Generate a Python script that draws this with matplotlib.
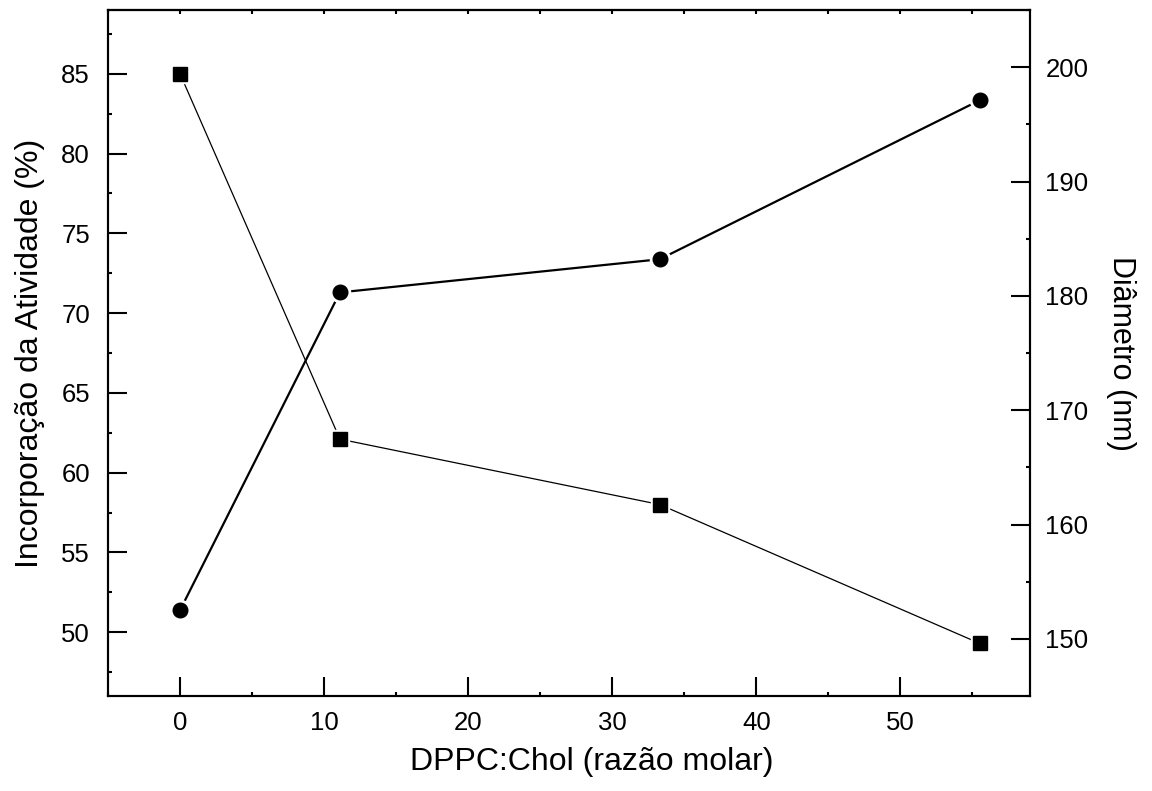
import matplotlib
matplotlib.use("Agg")
import matplotlib.pyplot as plt
from matplotlib.ticker import MultipleLocator

plt.rcParams['font.family'] = ['Liberation Sans', 'DejaVu Sans']

ratio = [0, 11.1, 33.3, 55.5]
incorporacao = [85.0, 62.1, 58.0, 49.3]
diametro = [152.5, 180.3, 183.2, 197.1]

fig = plt.figure(figsize=(11.52, 7.91), dpi=100)
ax = fig.add_axes([108/1152, 1-696/791, (1030-108)/1152, (696-10)/791])
ax2 = ax.twinx()

# squares on left axis (thin line)
ax.plot(ratio, incorporacao, '-', color='black', lw=0.9, zorder=2)
ax.plot(ratio, incorporacao, 's', color='white', ms=13.5, lw=0, zorder=3)
ax.plot(ratio, incorporacao, 's', color='black', ms=9.4, lw=0, zorder=4)

# circles on right axis (thick line)
ax2.plot(ratio, diametro, '-', color='black', lw=1.6, zorder=2)
ax2.plot(ratio, diametro, 'o', color='white', ms=14.5, lw=0, zorder=3)
ax2.plot(ratio, diametro, 'o', color='black', ms=10.5, lw=0, zorder=4)

ax.set_xlim(-5, 59)
ax.set_ylim(46, 89)
ax2.set_ylim(145, 205)

ax.xaxis.set_major_locator(MultipleLocator(10))
ax.xaxis.set_minor_locator(MultipleLocator(5))
ax.yaxis.set_major_locator(MultipleLocator(5))
ax.yaxis.set_minor_locator(MultipleLocator(2.5))
ax2.yaxis.set_major_locator(MultipleLocator(10))
ax2.yaxis.set_minor_locator(MultipleLocator(5))

fs = 18.5
ax.tick_params(axis='both', which='major', direction='in', length=14, width=1.5, labelsize=fs)
ax.tick_params(axis='x', which='major', pad=11)
ax.tick_params(axis='y', which='major', pad=13)
ax.tick_params(axis='both', which='minor', direction='in', length=3, width=1.5)
ax2.tick_params(axis='y', which='major', direction='in', length=14, width=1.5, labelsize=fs, pad=11)
ax2.tick_params(axis='y', which='minor', direction='in', length=3, width=1.5)

sec = ax.secondary_xaxis('top')
sec.xaxis.set_major_locator(MultipleLocator(10))
sec.xaxis.set_minor_locator(MultipleLocator(5))
sec.tick_params(axis='x', which='both', direction='in', length=3, width=1.5, labeltop=False)

for a in (ax, ax2):
    for s in a.spines.values():
        s.set_linewidth(1.5)
sec.spines['top'].set_linewidth(1.5)

ax.set_xlabel('DPPC:Chol (razão molar)', fontsize=23, labelpad=8)
ax.xaxis.set_label_coords(0.525, -0.075)
ax.set_ylabel('Incorporação da Atividade (%)', fontsize=23, labelpad=12)
ax2.set_ylabel('Diâmetro (nm)', fontsize=22, rotation=270, labelpad=34)

fig.savefig('out.png', dpi=100)
